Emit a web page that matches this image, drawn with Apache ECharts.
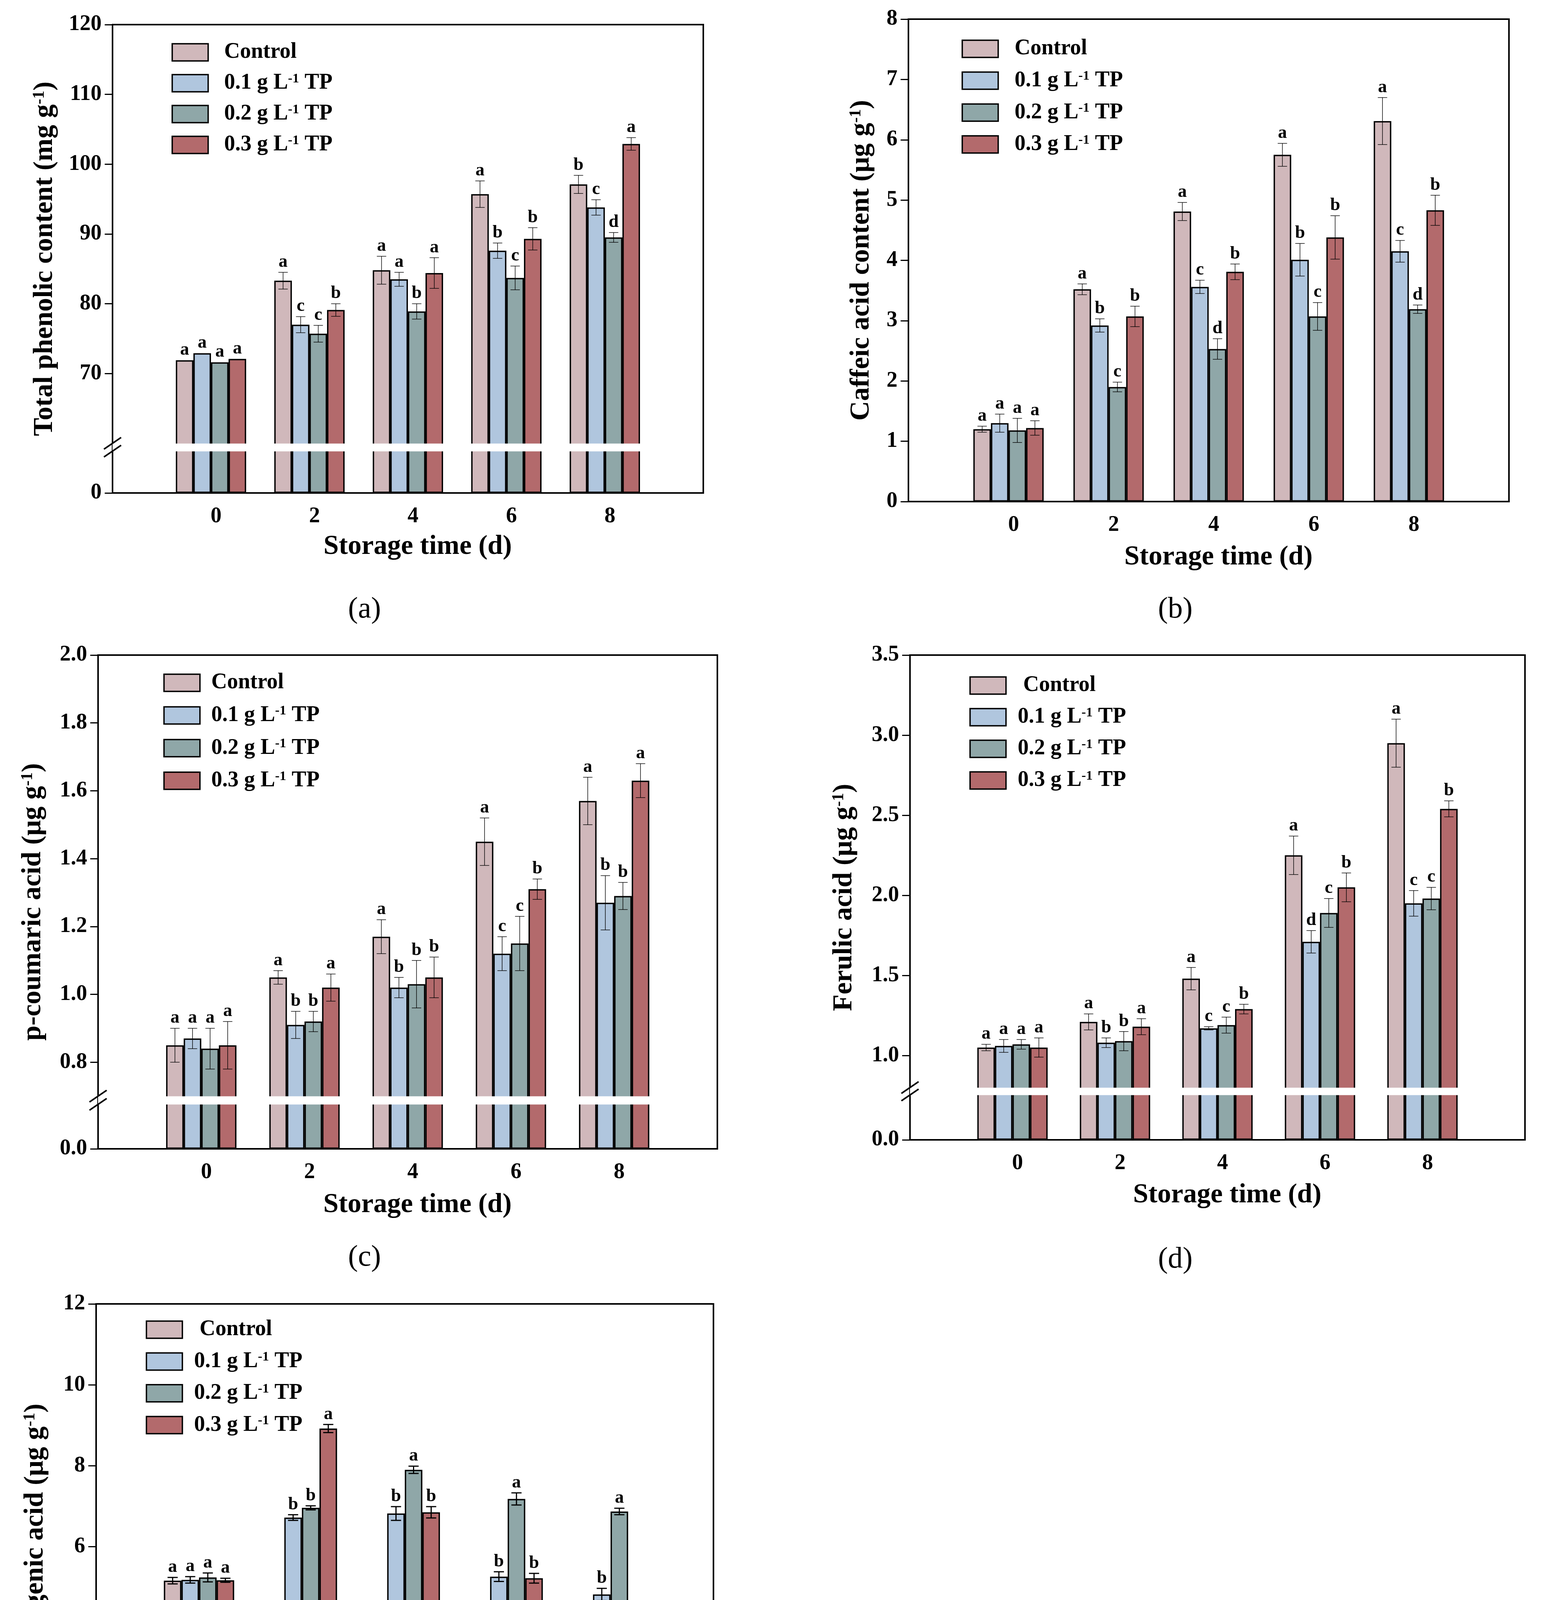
<!DOCTYPE html>
<html><head><meta charset="utf-8">
<script src="https://cdn.jsdelivr.net/npm/echarts@6/dist/echarts.min.js"></script>
<style>html,body{margin:0;padding:0;background:#fff}#c{width:3944px;height:4915px}</style>
</head><body><div id="c"></div>
<script>
// ---------- data ----------
const days = [0, 2, 4, 6, 8];
const treatmentNames = ['Control', '0.1 g L-1 TP', '0.2 g L-1 TP', '0.3 g L-1 TP'];

// (a) Total phenolic content
const phenolicControl = [71.9, 83.3, 84.8, 95.7, 97.1];
const phenolicTP01    = [72.9, 77.0, 83.5, 87.6, 93.8];
const phenolicTP02    = [71.6, 75.7, 78.9, 83.7, 89.5];
const phenolicTP03    = [72.1, 79.1, 84.4, 89.3, 102.9];
const phenolicErrControl = [0, 1.2, 2.0, 1.9, 1.3];
const phenolicErrTP01    = [0, 1.15, 1.0, 1.1, 1.1];
const phenolicErrTP02    = [0, 1.2, 1.1, 1.7, 0.7];
const phenolicErrTP03    = [0, 0.9, 2.2, 1.6, 0.9];
const phenolicLetControl = ['a', 'a', 'a', 'a', 'b'];
const phenolicLetTP01    = ['a', 'c', 'a', 'b', 'c'];
const phenolicLetTP02    = ['a', 'c', 'b', 'c', 'd'];
const phenolicLetTP03    = ['a', 'b', 'a', 'b', 'a'];
const phenolicTicks = [0, 70, 80, 90, 100, 110, 120];

// (b) Caffeic acid
const caffeicControl = [1.20, 3.52, 4.81, 5.75, 6.31];
const caffeicTP01    = [1.30, 2.92, 3.56, 4.01, 4.15];
const caffeicTP02    = [1.18, 1.90, 2.53, 3.07, 3.19];
const caffeicTP03    = [1.22, 3.07, 3.81, 4.38, 4.83];
const caffeicErrControl = [0.05, 0.09, 0.15, 0.19, 0.39];
const caffeicErrTP01    = [0.15, 0.11, 0.11, 0.27, 0.18];
const caffeicErrTP02    = [0.20, 0.08, 0.17, 0.23, 0.07];
const caffeicErrTP03    = [0.12, 0.17, 0.13, 0.36, 0.25];
const caffeicLetControl = ['a', 'a', 'a', 'a', 'a'];
const caffeicLetTP01    = ['a', 'b', 'c', 'b', 'c'];
const caffeicLetTP02    = ['a', 'c', 'd', 'c', 'd'];
const caffeicLetTP03    = ['a', 'b', 'b', 'b', 'b'];
const caffeicTicks = [0, 1, 2, 3, 4, 5, 6, 7, 8];

// (c) p-coumaric acid
const coumaricControl = [0.85, 1.05, 1.17, 1.45, 1.57];
const coumaricTP01    = [0.87, 0.91, 1.02, 1.12, 1.27];
const coumaricTP02    = [0.84, 0.92, 1.03, 1.15, 1.29];
const coumaricTP03    = [0.85, 1.02, 1.05, 1.31, 1.63];
const coumaricErrControl = [0.05, 0.02, 0.05, 0.07, 0.07];
const coumaricErrTP01    = [0.03, 0.04, 0.03, 0.05, 0.08];
const coumaricErrTP02    = [0.06, 0.03, 0.07, 0.08, 0.04];
const coumaricErrTP03    = [0.07, 0.04, 0.06, 0.03, 0.05];
const coumaricLetControl = ['a', 'a', 'a', 'a', 'a'];
const coumaricLetTP01    = ['a', 'b', 'b', 'c', 'b'];
const coumaricLetTP02    = ['a', 'b', 'b', 'c', 'b'];
const coumaricLetTP03    = ['a', 'a', 'b', 'b', 'a'];
const coumaricTicks = [0, 0.8, 1.0, 1.2, 1.4, 1.6, 1.8, 2.0];

// (d) Ferulic acid
const ferulicControl = [1.05, 1.21, 1.48, 2.25, 2.95];
const ferulicTP01    = [1.06, 1.08, 1.17, 1.71, 1.95];
const ferulicTP02    = [1.07, 1.09, 1.19, 1.89, 1.98];
const ferulicTP03    = [1.05, 1.18, 1.29, 2.05, 2.54];
const ferulicErrControl = [0.02, 0.05, 0.07, 0.12, 0.15];
const ferulicErrTP01    = [0.04, 0.03, 0.01, 0.07, 0.08];
const ferulicErrTP02    = [0.03, 0.06, 0.05, 0.09, 0.07];
const ferulicErrTP03    = [0.06, 0.05, 0.03, 0.09, 0.05];
const ferulicLetControl = ['a', 'a', 'a', 'a', 'a'];
const ferulicLetTP01    = ['a', 'b', 'c', 'd', 'c'];
const ferulicLetTP02    = ['a', 'b', 'c', 'c', 'c'];
const ferulicLetTP03    = ['a', 'a', 'b', 'b', 'b'];
const ferulicTicks = [0, 1.0, 1.5, 2.0, 2.5, 3.0, 3.5];

// (e) Chlorogenic acid
const chlorogenicControl = [5.16, 4.03, 3.27, 2.57, 2.06];
const chlorogenicTP01    = [5.18, 6.72, 6.82, 5.26, 4.82];
const chlorogenicTP02    = [5.24, 6.96, 7.90, 7.18, 6.87];
const chlorogenicTP03    = [5.17, 8.92, 6.85, 5.22, 4.15];
const chlorogenicErrControl = [0.08, 0.12, 0.22, 0.12, 0.07];
const chlorogenicErrTP01    = [0.08, 0.07, 0.17, 0.12, 0.15];
const chlorogenicErrTP02    = [0.11, 0.05, 0.09, 0.15, 0.08];
const chlorogenicErrTP03    = [0.05, 0.10, 0.14, 0.12, 0.05];
const chlorogenicLetControl = ['a', 'c', 'c', 'c', 'd'];
const chlorogenicLetTP01    = ['a', 'b', 'b', 'b', 'b'];
const chlorogenicLetTP02    = ['a', 'b', 'a', 'a', 'a'];
const chlorogenicLetTP03    = ['a', 'a', 'b', 'b', 'c'];
const chlorogenicTicks = [0, 2, 4, 6, 8, 10, 12];

const xTicks = [0, 2, 4, 6, 8];

// ---------- styling / layout ----------
const FONT = 'Liberation Serif';
const COLORS = ['#d0b8bb', '#b0c6de', '#8fa7a8', '#b36a6c'];
const BAR_W = 45;

const panels = [
  { cap: '(a)', yTitle: '{t|Total phenolic content (mg g}{s|-1}{t|)}', yMax: 120, ticks: phenolicTicks, dec: 0,
    vals: [phenolicControl, phenolicTP01, phenolicTP02, phenolicTP03],
    errs: [phenolicErrControl, phenolicErrTP01, phenolicErrTP02, phenolicErrTP03],
    lets: [phenolicLetControl, phenolicLetTP01, phenolicLetTP02, phenolicLetTP03],
    grid: { left: 288, top: 63, width: 1512, height: 1199 }, legend: { left: 439, top: 106, gap: 23, pad: 36, ctrlSpace: false },
    yGap: 138, xGap: 103, capPos: [933, 1561], brk: { start: 6, end: 60, gap: 1.12 }, errW: 1.4, capW: 24 },
  { cap: '(b)', yTitle: '{t|Caffeic acid content (μg g}{s|-1}{t|)}', yMax: 8, ticks: caffeicTicks, dec: 0,
    vals: [caffeicControl, caffeicTP01, caffeicTP02, caffeicTP03],
    errs: [caffeicErrControl, caffeicErrTP01, caffeicErrTP02, caffeicErrTP03],
    lets: [caffeicLetControl, caffeicLetTP01, caffeicLetTP02, caffeicLetTP03],
    grid: { left: 2325, top: 49, width: 1537, height: 1235 }, legend: { left: 2461, top: 97, gap: 25.6, pad: 37, ctrlSpace: false },
    yGap: 85, xGap: 108, capPos: [3008, 1561], brk: null, errW: 1.4, capW: 24 },
  { cap: '(c)', yTitle: '{t|p-coumaric acid (μg g}{s|-1}{t|)}', yMax: 2.0, ticks: coumaricTicks, dec: 1,
    vals: [coumaricControl, coumaricTP01, coumaricTP02, coumaricTP03],
    errs: [coumaricErrControl, coumaricErrTP01, coumaricErrTP02, coumaricErrTP03],
    lets: [coumaricLetControl, coumaricLetTP01, coumaricLetTP02, coumaricLetTP03],
    grid: { left: 251, top: 1677, width: 1585, height: 1264 }, legend: { left: 418, top: 1720, gap: 27.6, pad: 24, ctrlSpace: false },
    yGap: 131, xGap: 109, capPos: [933, 3220], brk: { start: 0.131, end: 0.7, gap: 0.0242 }, errW: 1.4, capW: 24 },
  { cap: '(d)', yTitle: '{t|Ferulic acid (μg g}{s|-1}{t|)}', yMax: 3.5, ticks: ferulicTicks, dec: 1,
    vals: [ferulicControl, ferulicTP01, ferulicTP02, ferulicTP03],
    errs: [ferulicErrControl, ferulicErrTP01, ferulicErrTP02, ferulicErrTP03],
    lets: [ferulicLetControl, ferulicLetTP01, ferulicLetTP02, ferulicLetTP03],
    grid: { left: 2329, top: 1677, width: 1574, height: 1241 }, legend: { left: 2481, top: 1727, gap: 25, pad: 25, ctrlSpace: true },
    yGap: 133, xGap: 107, capPos: [3008, 3225], brk: { start: 0.28, end: 0.8, gap: 0.0463 }, errW: 1.4, capW: 24 },
  { cap: '(e)', yTitle: '{t|Chlorogenic acid (μg g}{s|-1}{t|)}', yMax: 12, ticks: chlorogenicTicks, dec: 0,
    vals: [chlorogenicControl, chlorogenicTP01, chlorogenicTP02, chlorogenicTP03],
    errs: [chlorogenicErrControl, chlorogenicErrTP01, chlorogenicErrTP02, chlorogenicErrTP03],
    lets: [chlorogenicLetControl, chlorogenicLetTP01, chlorogenicLetTP02, chlorogenicLetTP03],
    grid: { left: 246, top: 3338, width: 1580, height: 1243 }, legend: { left: 373, top: 3376, gap: 25.4, pad: 25, ctrlSpace: true },
    yGap: 120, xGap: 105, capPos: [933, 4870], brk: null, errW: 3, capW: 26 }
];

const richTitle = {
  t: { fontFamily: FONT, fontWeight: 'bold', fontSize: 70, color: '#000', lineHeight: 70, verticalAlign: 'middle' },
  s: { fontFamily: FONT, fontWeight: 'bold', fontSize: 42, color: '#000', lineHeight: 42, verticalAlign: 'top' }
};
const richLegend = {
  t: { fontFamily: FONT, fontWeight: 'bold', fontSize: 56, color: '#000', lineHeight: 56, verticalAlign: 'middle' },
  s: { fontFamily: FONT, fontWeight: 'bold', fontSize: 34, color: '#000', lineHeight: 34, verticalAlign: 'top' }
};
function makeLegendFmt(ctrlSpace) {
  return function (name) {
    const m = name.match(/^(.*L)(-1)(.*)$/);
    if (!m) return '{t|' + (ctrlSpace ? ' ' : '') + name + '}';
    return '{t|' + m[1] + '}{s|' + m[2] + '}{t|' + m[3] + '}';
  };
}

const option = {
  animation: false,
  backgroundColor: '#fff',
  grid: [], xAxis: [], yAxis: [], legend: [], series: [], graphic: []
};

panels.forEach((P, k) => {
  option.grid.push(Object.assign({
    show: true, borderColor: '#000', borderWidth: 4, backgroundColor: 'transparent',
    containLabel: false, outerBoundsMode: 'none'
  }, P.grid));
  option.xAxis.push({
    type: 'value', gridIndex: k, min: -2, max: 10,
    name: 'Storage time (d)', nameLocation: 'middle', nameGap: P.xGap,
    nameTextStyle: { fontFamily: FONT, fontWeight: 'bold', fontSize: 70, color: '#000', padding: [0, 0, 0, 50] },
    axisLine: { show: true, onZero: false, lineStyle: { color: '#000', width: 4 } },
    axisTick: { show: false },
    splitLine: { show: false },
    axisLabel: { customValues: xTicks, margin: 33, padding: [0, 0, 0, 26],
      fontFamily: FONT, fontWeight: 'bold', fontSize: 56, color: '#000' }
  });
  const y = {
    type: 'value', gridIndex: k, min: 0, max: P.yMax,
    name: P.yTitle, nameLocation: 'middle', nameGap: P.yGap, nameRotate: 90,
    nameTextStyle: { rich: richTitle },
    axisLine: { show: true, onZero: false, lineStyle: { color: '#000', width: 4 } },
    axisTick: { show: true, inside: false, length: 20, customValues: P.ticks, lineStyle: { color: '#000', width: 3 } },
    splitLine: { show: false },
    axisLabel: { customValues: P.ticks, margin: 28, fontFamily: FONT, fontWeight: 'bold', fontSize: 56, color: '#000',
      formatter: (v) => Number(v).toFixed(P.dec) }
  };
  if (P.brk) {
    y.breaks = [{ start: P.brk.start, end: P.brk.end, gap: P.brk.gap }];
    y.breakArea = { show: true, expandOnClick: false, zigzagAmplitude: 0, zigzagZ: 100,
      itemStyle: { color: '#fff', borderColor: '#fff', borderWidth: 0, opacity: 1 } };
  }
  option.yAxis.push(y);
  option.legend.push({
    left: P.legend.left, top: P.legend.top, orient: 'vertical', padding: 0,
    itemWidth: 92, itemHeight: 44, itemGap: P.legend.gap, icon: 'rect',
    data: treatmentNames, selectedMode: false,
    itemStyle: { borderColor: '#000', borderWidth: 3.5 },
    formatter: makeLegendFmt(P.legend.ctrlSpace),
    textStyle: { padding: [0, 0, 0, P.legend.pad], rich: richLegend }
  });
  P.vals.forEach((vals, j) => {
    option.series.push({
      type: 'bar', name: treatmentNames[j], xAxisIndex: k, yAxisIndex: k,
      barWidth: BAR_W, barGap: '0%',
      itemStyle: { color: COLORS[j], borderColor: '#000', borderWidth: 3.5 },
      data: days.map((d, i) => [d, vals[i]]), z: 2
    });
  });
  P.vals.forEach((vals, j) => {
    const errs = P.errs[j], lets = P.lets[j];
    option.series.push({
      type: 'custom', xAxisIndex: k, yAxisIndex: k, z: 10, silent: true, clip: false,
      data: days.map((d, i) => [d, vals[i], errs[i]]),
      renderItem: (params, api) => {
        const i = params.dataIndex;
        const x = api.value(0), v = api.value(1), e = api.value(2);
        const cx = api.coord([x, v])[0] + (j - 1.5) * BAR_W;
        const yv = api.coord([x, v])[1];
        const yt = api.coord([x, v + e])[1];
        const yb = api.coord([x, v - e])[1];
        const st = { stroke: '#000', lineWidth: P.errW };
        const ch = [];
        if (e > 0) {
          ch.push({ type: 'line', shape: { x1: cx, y1: yt, x2: cx, y2: yb }, style: st });
          ch.push({ type: 'line', shape: { x1: cx - P.capW / 2, y1: yt, x2: cx + P.capW / 2, y2: yt }, style: st });
          ch.push({ type: 'line', shape: { x1: cx - P.capW / 2, y1: yb, x2: cx + P.capW / 2, y2: yb }, style: st });
        }
        ch.push({ type: 'text', x: cx, y: Math.min(yt, yv) - 3,
          style: { text: lets[i], fill: '#000', font: 'bold 46px "' + FONT + '"', align: 'center', verticalAlign: 'bottom' } });
        return { type: 'group', children: ch };
      }
    });
  });
  option.graphic.push({
    type: 'text', x: P.capPos[0], y: P.capPos[1], z: 50,
    style: { text: P.cap, fill: '#000', font: '76px "' + FONT + '"', align: 'center', verticalAlign: 'middle' }
  });
});

const chart = echarts.init(document.getElementById('c'), null, { renderer: 'canvas' });
chart.setOption(option);

// break marks "//" on the left axis and continuous right frame line
const marks = option.graphic.slice();
panels.forEach((P, k) => {
  if (!P.brk) return;
  const pTop = chart.convertToPixel({ gridIndex: k }, [-2, P.brk.end]);
  const pBot = chart.convertToPixel({ gridIndex: k }, [-2, P.brk.start]);
  const x = P.grid.left;
  [pTop[1], pBot[1]].forEach((yy) => {
    marks.push({ type: 'line', z: 200, shape: { x1: x - 22, y1: yy + 15, x2: x + 22, y2: yy - 15 },
      style: { stroke: '#000', lineWidth: 4 } });
  });
  const xr = P.grid.left + P.grid.width;
  marks.push({ type: 'line', z: 200, shape: { x1: xr, y1: pTop[1] - 10, x2: xr, y2: pBot[1] + 10 },
    style: { stroke: '#000', lineWidth: 4 } });
});
chart.setOption({ graphic: marks });
</script>
</body></html>
